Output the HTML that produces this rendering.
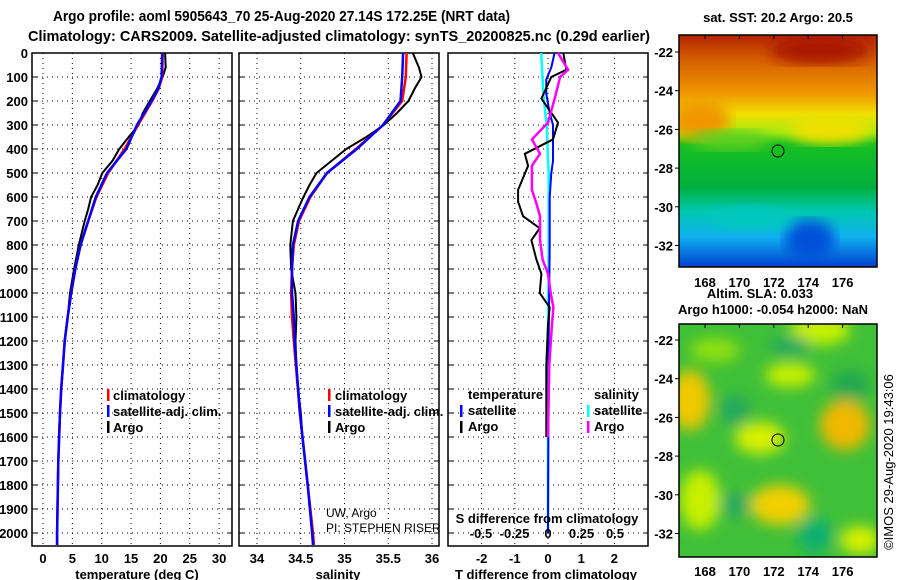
<!DOCTYPE html>
<html><head><meta charset="utf-8"><style>
html,body{margin:0;padding:0;background:#fff}
svg{display:block;font-family:"Liberation Sans",sans-serif}
.t{font-weight:bold;font-size:13px}
</style></head><body>
<svg id="s" width="900" height="580" xmlns="http://www.w3.org/2000/svg">
<defs>
<linearGradient id="sst" x1="0" y1="0" x2="0" y2="1">
<stop offset="0" stop-color="#b42400"/><stop offset="0.1" stop-color="#d45c00"/><stop offset="0.25" stop-color="#f09600"/>
<stop offset="0.34" stop-color="#f0e000"/><stop offset="0.42" stop-color="#a8e810"/><stop offset="0.47" stop-color="#18c020"/>
<stop offset="0.66" stop-color="#00b040"/><stop offset="0.76" stop-color="#00c8b0"/><stop offset="0.87" stop-color="#10b0f0"/>
<stop offset="1" stop-color="#0040d0"/></linearGradient>
<filter id="bl"><feGaussianBlur stdDeviation="7"/></filter>
<clipPath id="c1"><rect x="679" y="35" width="198" height="232"/></clipPath>
<clipPath id="c2"><rect x="679" y="324" width="198" height="233"/></clipPath>
</defs>
<text x="53" y="21" textLength="457" lengthAdjust="spacingAndGlyphs" font-size="15" font-weight="bold">Argo profile: aoml 5905643_70 25-Aug-2020 27.14S 172.25E (NRT data)</text>
<text x="28" y="41" textLength="622" lengthAdjust="spacingAndGlyphs" font-size="15" font-weight="bold">Climatology: CARS2009. Satellite-adjusted climatology: synTS_20200825.nc (0.29d earlier)</text>
<g id="plots"></g>
<g id="maps">
<text x="778" y="22" text-anchor="middle" class="t">sat. SST: 20.2 Argo: 20.5</text>
<g clip-path="url(#c1)">
<rect x="679" y="35" width="198" height="232" fill="url(#sst)"/>
<ellipse cx="700" cy="120" rx="30" ry="20" fill="#f09600" filter="url(#bl)"/>
<ellipse cx="830" cy="130" rx="40" ry="14" fill="#f0e000" filter="url(#bl)"/>
<ellipse cx="730" cy="140" rx="40" ry="10" fill="#60d020" filter="url(#bl)"/>
<ellipse cx="810" cy="240" rx="25" ry="20" fill="#0050d8" filter="url(#bl)"/>
<ellipse cx="750" cy="218" rx="40" ry="12" fill="#00c8c0" filter="url(#bl)"/>
<ellipse cx="820" cy="50" rx="50" ry="14" fill="#a81800" filter="url(#bl)"/>
</g>
<rect x="679" y="35" width="198" height="232" fill="none" stroke="#000" stroke-width="1.5"/>
<circle cx="778" cy="151" r="6" fill="none" stroke="#000"/>
<text x="760" y="298" text-anchor="middle" class="t">Altim. SLA: 0.033</text>
<text x="773" y="314" text-anchor="middle" class="t">Argo h1000: -0.054 h2000: NaN</text>
<g clip-path="url(#c2)">
<rect x="679" y="324" width="198" height="233" fill="#40c038"/>
<g filter="url(#bl)">
<ellipse cx="690" cy="400" rx="20" ry="30" fill="#f0c800"/>
<ellipse cx="845" cy="425" rx="25" ry="25" fill="#f0b800"/>
<ellipse cx="780" cy="505" rx="30" ry="20" fill="#f0d000"/>
<ellipse cx="760" cy="438" rx="25" ry="16" fill="#d8f000"/>
<ellipse cx="820" cy="330" rx="30" ry="15" fill="#c8f000"/>
<ellipse cx="700" cy="500" rx="20" ry="30" fill="#c8f000"/>
<ellipse cx="860" cy="540" rx="20" ry="14" fill="#d8f000"/>
<ellipse cx="790" cy="375" rx="25" ry="12" fill="#c8f000"/>
<ellipse cx="715" cy="350" rx="25" ry="12" fill="#90e010"/>
<ellipse cx="790" cy="346" rx="20" ry="10" fill="#20a860"/>
<ellipse cx="735" cy="410" rx="15" ry="15" fill="#20a860"/>
<ellipse cx="735" cy="505" rx="15" ry="12" fill="#20a860"/>
<ellipse cx="815" cy="535" rx="18" ry="18" fill="#10b070"/>
<ellipse cx="850" cy="385" rx="20" ry="15" fill="#20a850"/>
</g>
</g>
<rect x="679" y="324" width="198" height="233" fill="none" stroke="#000" stroke-width="1.5"/>
<circle cx="778" cy="440" r="6" fill="none" stroke="#000"/>
<text transform="translate(893,462) rotate(-90)" text-anchor="middle" font-size="13">©IMOS 29-Aug-2020 19:43:06</text>
</g>
</svg>
<script>
const depthTicks=[0,100,200,300,400,500,600,700,800,900,1000,1100,1200,1300,1400,1500,1600,1700,1800,1900,2000];
const tempTicks=[0,5,10,15,20,25,30];
const salTicks=[34,34.5,35,35.5,36];
const tdTicks=[-2,-1,0,1,2];
const sdTicks=[-0.5,-0.25,0,0.25,0.5];
const tDepth=[0,100,150,200,300,400,500,600,700,800,900,1000,1100,1200,1300,1400,1500,1700,2000,2050];
const tClim=[20.4,20.3,19.7,18.6,16.2,13.9,11.1,9.1,7.7,6.4,5.5,4.8,4.2,3.7,3.4,3.1,2.9,2.6,2.4,2.4];
const tSat=[20.3,20.2,19.6,18.5,16.0,14.2,10.9,9.0,7.7,6.4,5.5,4.8,4.2,3.7,3.4,3.1,2.9,2.6,2.4,2.4];
const argoDepth=[0,60,100,150,200,250,300,350,400,450,500,550,600,650,700,800,900,1000,1100,1200,1300,1400,1500,1600];
const tArgo=[20.8,20.9,20.4,19.4,18.2,17.0,16.3,14.6,13.0,11.8,10.1,9.3,8.2,7.7,7.1,6.1,5.3,4.6,4.2,3.7,3.4,3.1,2.9,2.7];
const sArgo=[35.78,35.85,35.88,35.80,35.73,35.60,35.45,35.25,35.02,34.85,34.68,34.60,34.53,34.47,34.41,34.38,34.39,34.44,34.45,34.44,34.45,34.47,34.50,34.52];
const sDepth=[0,100,200,300,400,500,600,700,800,900,1000,1100,1200,1500,1800,2000,2050];
const sClim=[35.71,35.70,35.66,35.44,35.13,34.80,34.61,34.48,34.42,34.40,34.39,34.40,34.42,34.49,34.58,34.64,34.65];
const sSat=[35.67,35.66,35.64,35.44,35.14,34.80,34.60,34.47,34.41,34.40,34.40,34.42,34.43,34.49,34.58,34.63,34.64];
const dDepth=[0,70,100,190,290,360,420,470,570,620,680,730,780,860,920,1000,1060,1130,1300,1600];
const tdArgo=[0.46,0.55,0.1,-0.2,0.3,0.15,-0.7,-0.6,-0.9,-0.9,-0.75,-0.25,-0.5,-0.35,-0.2,-0.25,0.05,0,-0.05,-0.05];
const sdArgo=[0.075,0.15,0.09,0.05,0.0,-0.12,-0.06,-0.12,-0.12,-0.09,-0.06,-0.06,-0.06,-0.04,0,0.02,0.04,0.03,0.01,0.0];
const satDepth=[0,60,110,170,250,300,450,500,600,800,1200,2000];
const tdSat=[0.2,0.1,-0.05,-0.05,0.05,0.15,0.15,0.1,0.05,0.05,0.02,0.0];
const sdSat=[-0.05,-0.045,-0.04,-0.035,-0.02,-0.01,0.0,0.005,0.005,0.005,0.0,0.0];

const NS="http://www.w3.org/2000/svg";
const g=document.getElementById('plots');
function el(t,a,p){const e=document.createElementNS(NS,t);for(const k in a)e.setAttribute(k,a[k]);(p||g).appendChild(e);return e;}
const Y=d=>53+d*0.24;
const xT=v=>43+v*5.87, xS=v=>257+(v-34)*87.5, xTD=v=>548+v*33.2, xSD=v=>548+v*134;
const panels=[[32,232,'temperature-panel'],[239,439,'salinity-panel'],[448,648,'difference-panel']];
panels.forEach(([l,r,nm],pi)=>{
  const gr=el('g',{});
  
  
  depthTicks.forEach(d=>{
    if(d>0){el('line',{x1:l,x2:r,y1:Y(d),y2:Y(d),stroke:'#000','stroke-dasharray':'1 4'},gr);}
    el('line',{x1:l,x2:l+5,y1:Y(d),y2:Y(d),stroke:'#000'},gr);
    el('line',{x1:r-5,x2:r,y1:Y(d),y2:Y(d),stroke:'#000'},gr);
    if(pi==0){const t=el('text',{x:28,y:Y(d)+5,'text-anchor':'end','class':'t'},gr);t.textContent=d;
      
      }
  });
  const ticks=[tempTicks,salTicks,tdTicks][pi], fx=[xT,xS,xTD][pi];
  ticks.forEach(v=>{
    el('line',{x1:fx(v),x2:fx(v),y1:53,y2:546,stroke:'#000','stroke-dasharray':'1 4'},gr);
    const t=el('text',{x:fx(v),y:563,'text-anchor':'middle','class':'t'},gr);t.textContent=v;
    
    
  });
  el('rect',{x:l,y:53,width:r-l,height:493,fill:'none',stroke:'#000','stroke-width':1.5},gr);
});
function line(xs,ds,fx,col,w,name){
  const pts=xs.map((v,i)=>fx(v).toFixed(1)+','+Y(ds[i]).toFixed(1)).join(' ');
  const p=el('polyline',{points:pts,fill:'none',stroke:col,'stroke-width':w});
  
  
}
line(tArgo,argoDepth,xT,'#000',2,'temp-argo-line');
line(tClim,tDepth,xT,'#f00',2.5,'temp-clim-line');
line(tSat,tDepth,xT,'#00f',2.5,'temp-sat-line');
line(sArgo,argoDepth,xS,'#000',2,'sal-argo-line');
line(sClim,sDepth,xS,'#f00',2.5,'sal-clim-line');
line(sSat,sDepth,xS,'#00f',2.5,'sal-sat-line');
line(sdSat,satDepth,xSD,'#0ff',2.5,'sdiff-sat-line');
line(tdSat,satDepth,xTD,'#00f',2,'tdiff-sat-line');
line(tdArgo,dDepth,xTD,'#000',2,'tdiff-argo-line');
line(sdArgo,dDepth,xSD,'#f0f',2.5,'sdiff-argo-line');
function txt(x,y,s,name,cls,anchor,fs){const t=el('text',{x:x,y:y,'text-anchor':anchor||'start'});if(cls)t.setAttribute('class',cls);if(fs)t.setAttribute('font-size',fs);t.textContent=s;
  
  return t;}
function mark(x,y,c){const m=el('rect',{x:x-1,y:y-7,width:2.5,height:12,fill:c});
  
  }
[['climatology','#f00'],['satellite-adj. clim.','#00f'],['Argo','#000']].forEach((a,i)=>{mark(108,396+i*16,a[1]);txt(113,400+i*16,a[0],'legend-entry','t');});
[['climatology','#f00'],['satellite-adj. clim.','#00f'],['Argo','#000']].forEach((a,i)=>{mark(329,396+i*16,a[1]);txt(335,400+i*16,a[0],'legend-entry','t');});
txt(468,399,'temperature','legend-heading','t');txt(594,399,'salinity','legend-heading','t');
mark(461,412,'#00f');txt(468,415,'satellite','legend-entry','t');
mark(588,412,'#0ff');txt(594,415,'satellite','legend-entry','t');
mark(461,428,'#000');txt(468,431,'Argo','legend-entry','t');
mark(588,428,'#f0f');txt(594,431,'Argo','legend-entry','t');
txt(326,517,'UW, Argo','owner-text',null,'start',12);
txt(326,532,'PI: STEPHEN RISER','pi-text',null,'start',12);
txt(547,523,'S difference from climatology','s-diff-axis-title','t','middle');
sdTicks.forEach(v=>txt(xSD(v),538,v,'s-diff-tick-label','t','middle'));
txt(137,579,'temperature (deg C)','x-axis-title-temp','t','middle');
txt(338,579,'salinity','x-axis-title-sal','t','middle');
txt(546,579,'T difference from climatology','x-axis-title-tdiff','t','middle');
const mg=document.getElementById('maps');
const lons=[168,170,172,174,176], lats=[-22,-24,-26,-28,-30,-32];
[[35,267,52,287],[324,557,340,576]].forEach(([top,bot,y22,ly])=>{
  lons.forEach(lo=>{const x=705+(lo-168)*17.2;
    el('line',{x1:x,x2:x,y1:top,y2:top+4,stroke:'#000'},mg);
    const t=el('text',{x:x,y:ly,'text-anchor':'middle','class':'t'},mg);t.textContent=lo;
    
    });
  lats.forEach(la=>{const y=y22+(-22-la)*19.35;
    el('line',{x1:675,x2:679,y1:y,y2:y,stroke:'#000'},mg);
    const t=el('text',{x:673,y:y+5,'text-anchor':'end','class':'t'},mg);t.textContent=la;
    
    });
});
</script>
</body></html>
